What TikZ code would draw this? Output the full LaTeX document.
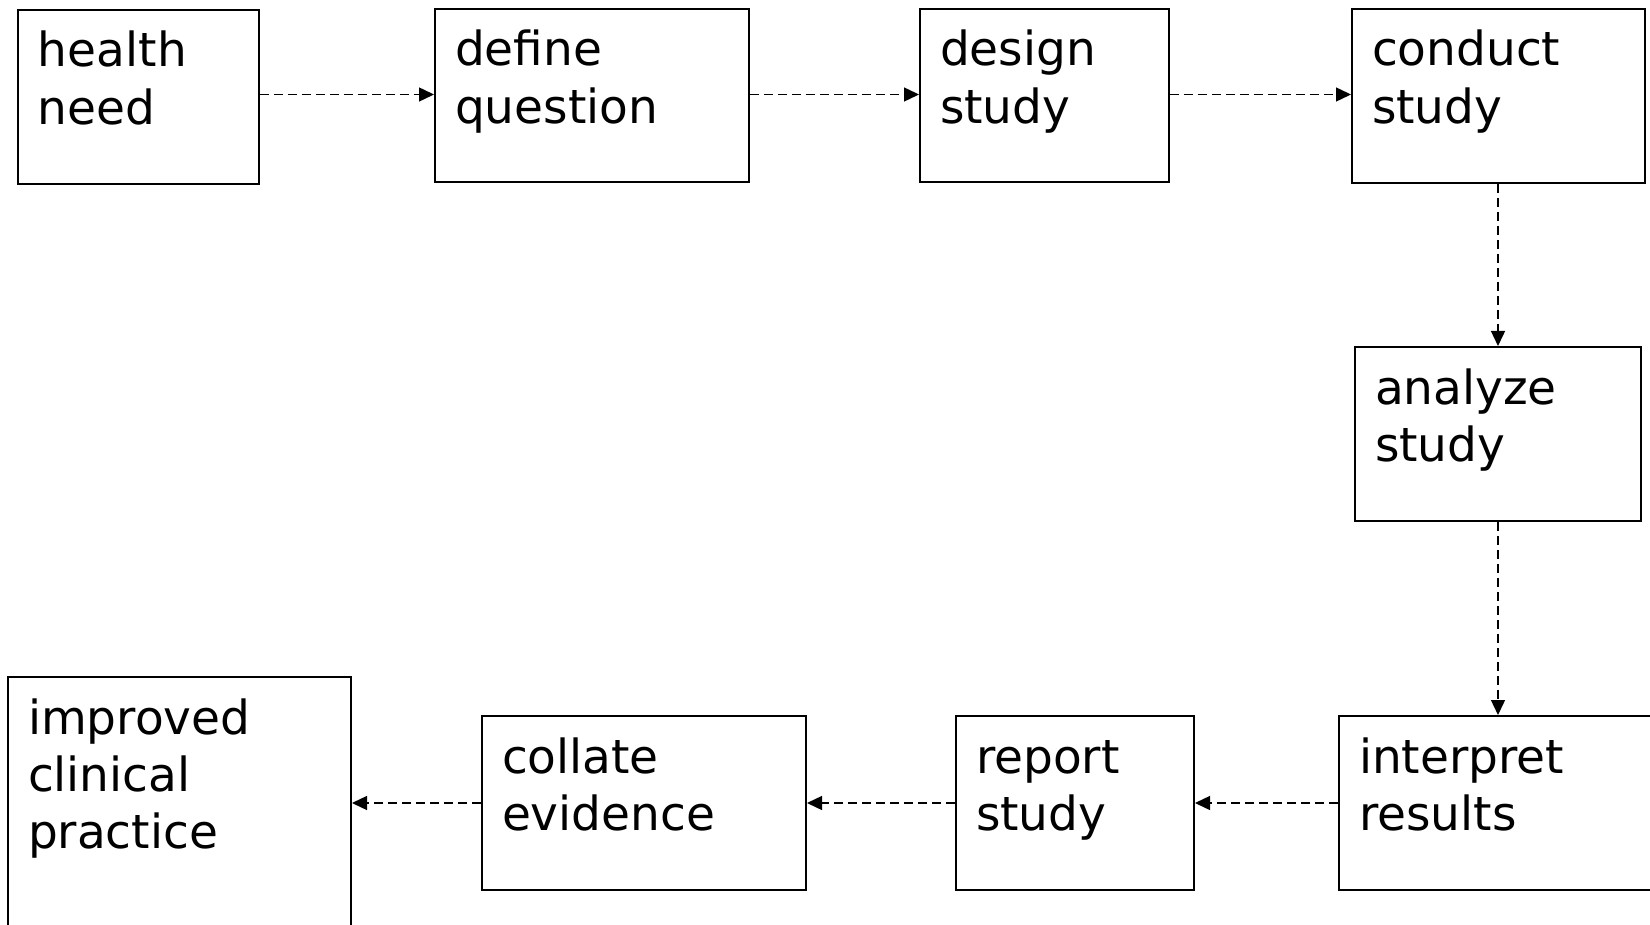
\documentclass[tikz,border=0pt]{standalone}
\usepackage{fontspec}
\setmainfont{DejaVu Sans}
\usetikzlibrary{arrows.meta}
% lines of a stage label, with the baseline of the first line as reference
\newcommand{\stagelines}[1]{\begin{tabular}[t]{@{}l@{}}#1\end{tabular}}
\tikzset{
  stage/.style={draw=black, line width=1pt, fill=none, inner sep=0pt, anchor=north west},
  stagetext/.style={anchor=base west, inner sep=0pt,
    font=\fontsize{23.5pt}{28.6pt}\selectfont, xshift=10.3pt, yshift=-29pt},
  flow/.style={draw=black, line width=0.7pt, dash pattern=on 4.5pt off 2.5pt,
    -{Triangle[length=7.5pt,width=7pt]}}
}
\begin{document}
\begin{tikzpicture}[x=0.5pt,y=-0.5pt]
\useasboundingbox (0,0) rectangle (1650,925);
\clip (0,0) rectangle (1650,925);
% top row
\node[stage, minimum width=120.5pt, minimum height=87pt,
  label={[stagetext]north west:\stagelines{health\\need}}] (need) at (17,9) {};
\node[stage, minimum width=157pt, minimum height=86.5pt,
  label={[stagetext]north west:\stagelines{define\\question}}] (question) at (434,8) {};
\node[stage, minimum width=124.5pt, minimum height=86.5pt,
  label={[stagetext]north west:\stagelines{design\\study}}] (design) at (919,8) {};
\node[stage, minimum width=146.5pt, minimum height=87pt,
  label={[stagetext]north west:\stagelines{conduct\\study}}] (conduct) at (1351,8) {};
% right column
\node[stage, minimum width=143pt, minimum height=87pt,
  label={[stagetext]north west:\stagelines{analyze\\study}}] (analyze) at (1354,346) {};
% bottom row
\node[stage, minimum width=160pt, minimum height=87pt,
  label={[stagetext]north west:\stagelines{interpret\\results}}] (interpret) at (1338,715) {};
\node[stage, minimum width=119pt, minimum height=87pt,
  label={[stagetext]north west:\stagelines{report\\study}}] (report) at (955,715) {};
\node[stage, minimum width=162pt, minimum height=87pt,
  label={[stagetext]north west:\stagelines{collate\\evidence}}] (collate) at (481,715) {};
\node[stage, minimum width=171.5pt, minimum height=140pt,
  label={[stagetext]north west:\stagelines{improved\\clinical\\practice}}] (practice) at (7,676) {};
% connectors
\coordinate (toprow) at (0,94.5);
\coordinate (botrow) at (0,803);
\coordinate (col) at (1498,0);
\draw[flow] (need.east |- toprow) -- (question.west |- toprow);
\draw[flow] (question.east |- toprow) -- (design.west |- toprow);
\draw[flow] (design.east |- toprow) -- (conduct.west |- toprow);
\draw[flow] (col |- conduct.south) -- (col |- analyze.north);
\draw[flow] (col |- analyze.south) -- (col |- interpret.north);
\draw[flow] (interpret.west |- botrow) -- (report.east |- botrow);
\draw[flow] (report.west |- botrow) -- (collate.east |- botrow);
\draw[flow] (collate.west |- botrow) -- (practice.east |- botrow);
\end{tikzpicture}
\end{document}
